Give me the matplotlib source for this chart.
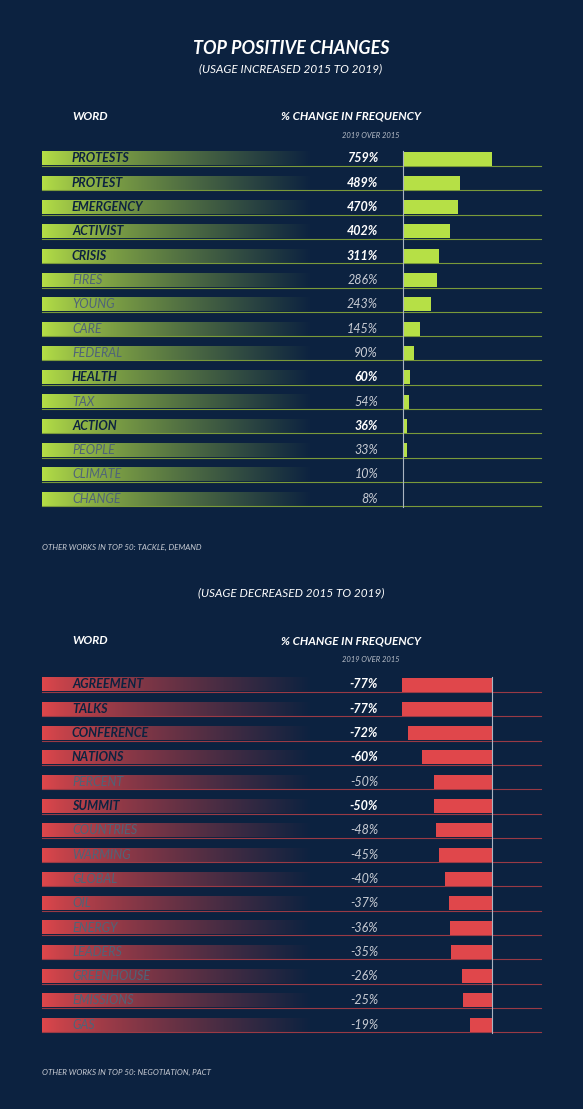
import numpy as np
import matplotlib
matplotlib.use("Agg")
import matplotlib.pyplot as plt
from matplotlib.colors import to_rgb

plt.rcParams['font.family'] = ['Lato', 'DejaVu Sans']

# data
pos_words = ['PROTESTS', 'PROTEST', 'EMERGENCY', 'ACTIVIST', 'CRISIS', 'FIRES', 'YOUNG', 'CARE',
             'FEDERAL', 'HEALTH', 'TAX', 'ACTION', 'PEOPLE', 'CLIMATE', 'CHANGE']
pos_vals = [759, 489, 470, 402, 311, 286, 243, 145, 90, 60, 54, 36, 33, 10, 8]
pos_bold = [1, 1, 1, 1, 1, 0, 0, 0, 0, 1, 0, 1, 0, 0, 0]

neg_words = ['AGREEMENT', 'TALKS', 'CONFERENCE', 'NATIONS', 'PERCENT', 'SUMMIT', 'COUNTRIES',
             'WARMING', 'GLOBAL', 'OIL', 'ENERGY', 'LEADERS', 'GREENHOUSE', 'EMISSIONS', 'GAS']
neg_vals = [-77, -77, -72, -60, -50, -50, -48, -45, -40, -37, -36, -35, -26, -25, -19]
neg_bold = [1, 1, 1, 1, 0, 1, 0, 0, 0, 0, 0, 0, 0, 0, 0]

BG = '#0c2240'
GREEN = '#b6e046'
RED = '#e0474b'
W, H = 583, 1109

fig = plt.figure(figsize=(W / 100, H / 100), dpi=100, facecolor=BG)
ax = fig.add_axes([0, 0, 1, 1])
ax.set_xlim(0, W)
ax.set_ylim(H, 0)
ax.axis('off')
ax.set_facecolor(BG)


def panel(words, vals, bold, color, y0, zero_px, px_per, line_color):
    step = 24.3
    bg = np.array(to_rgb(BG))
    c = np.array(to_rgb(color))
    t = np.clip(np.linspace(0, 1, 300) / 1.0, 0, 1)
    a = 1 - t ** 0.8
    grad = (c[None, :] * a[:, None] + bg[None, :] * (1 - a[:, None]))[None, :, :]
    ys = [y0 + i * step for i in range(len(words))]
    for w, v, b, y in zip(words, vals, bold, ys):
        ax.imshow(grad, extent=(42, 312, y + 7, y - 7), aspect='auto', zorder=1)
        ax.plot([42, 541], [y + 7.5, y + 7.5], color=line_color, lw=0.8, zorder=2)
        ax.text(72, y, w, ha='left', va='center', fontsize=9, style='italic',
                fontweight='bold' if b else 'normal',
                color='#0c2240' if b else '#4f6478', zorder=3)
        ax.text(378, y, f'{v}%', ha='right', va='center', fontsize=9, style='italic',
                fontweight='bold' if b else 'normal',
                color='white' if b else '#c8ccd4', zorder=3)
    # bar axes, horizontal mapping px -> percent
    left_px, right_px = 360, 541
    bax = fig.add_axes([left_px / W, 0, (right_px - left_px) / W, 1])
    bax.set_xlim((left_px - zero_px) / px_per, (right_px - zero_px) / px_per)
    bax.set_ylim(H, 0)
    bax.axis('off')
    bax.patch.set_alpha(0)
    bax.barh(ys, vals, height=14, color=color, zorder=2)
    bax.plot([0, 0], [ys[0] - 8, ys[-1] + 8], color='#aab4c0', lw=0.8, zorder=3)


panel(pos_words, pos_vals, pos_bold, GREEN, 158.5, 403, 89 / 759, '#7a9a3a')
panel(neg_words, neg_vals, neg_bold, RED, 684.5, 492, 90 / 77, '#9a3a45')

white = 'white'
ax.text(291, 48, 'TOP POSITIVE CHANGES', ha='center', va='center', fontsize=13,
        fontweight='bold', style='italic', color=white)
ax.text(291, 69, '(USAGE INCREASED 2015 TO 2019)', ha='center', va='center', fontsize=8.5,
        style='italic', color=white)
ax.text(291, 593, '(USAGE DECREASED 2015 TO 2019)', ha='center', va='center', fontsize=8.5,
        style='italic', color=white)
for hy, sy in ((116, 135), (641, 660)):
    ax.text(72, hy, 'WORD', ha='left', va='center', fontsize=8.5, fontweight='bold',
            style='italic', color=white)
    ax.text(281, hy, '% CHANGE IN FREQUENCY', ha='left', va='center', fontsize=8.5,
            fontweight='bold', style='italic', color=white)
    ax.text(371, sy, '2019 OVER 2015', ha='center', va='center', fontsize=5.5,
            style='italic', color='#b8bec8')
ax.text(42, 547, 'OTHER WORKS IN TOP 50: TACKLE, DEMAND', ha='left', va='center',
        fontsize=5.8, style='italic', color='#c8ccd4')
ax.text(42, 1072, 'OTHER WORKS IN TOP 50: NEGOTIATION, PACT', ha='left', va='center',
        fontsize=5.8, style='italic', color='#c8ccd4')

fig.savefig('out.png', dpi=100, facecolor=BG)
